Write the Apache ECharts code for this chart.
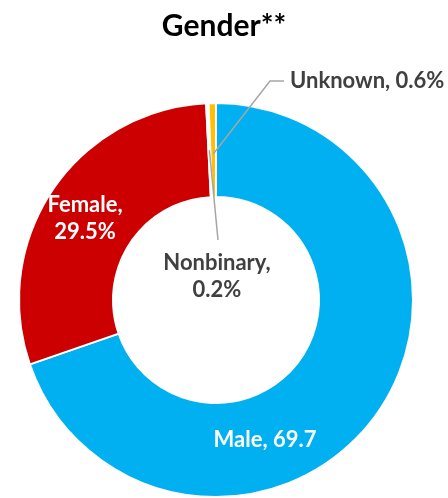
<!DOCTYPE html>
<html>
<head>
<meta charset="utf-8">
<script src="https://cdn.jsdelivr.net/npm/echarts@6/dist/echarts.min.js"></script>
<style>
html, body { margin: 0; padding: 0; background: #fff; }
#gender_chart_main { width: 448px; height: 498px; }
</style>
</head>
<body>
<div id="gender_chart_main"></div>
<script>
// data
var genderNames = ['Male', 'Female', 'Nonbinary', 'Unknown'];
var genderValues = [69.7, 29.5, 0.2, 0.6];
var genderLabels = ['Male, 69.7', 'Female,\n29.5%', 'Nonbinary,\n0.2%', 'Unknown, 0.6%'];
var genderColors = ['#00B0F0', '#CC0000', '#FFFFFF', '#FFC000'];

var FONT = 'Lato, "Open Sans", sans-serif';
var CX = 216, CY = 300, R0 = 103, R1 = 197;

// point in the middle of a slice (angle from top, clockwise)
function slicePoint(idx, rr) {
	var total = 0, before = 0;
	for (var i = 0; i < genderValues.length; i++) {
		total += genderValues[i];
		if (i < idx) before += genderValues[i];
	}
	var a = (before + genderValues[idx] / 2) / total * Math.PI * 2;
	return [CX + rr * Math.sin(a), CY - rr * Math.cos(a)];
}

var genderChart = echarts.init(document.getElementById('gender_chart_main'));

var ringData = [];
var labelData = [];
for (var i = 0; i < genderNames.length; i++) {
	var inside = i < 2;
	ringData.push({
		name: genderNames[i],
		value: genderValues[i],
		itemStyle: { color: genderColors[i] }
	});
	labelData.push({
		name: genderNames[i],
		value: genderValues[i],
		label: {
			position: inside ? 'inside' : 'outside',
			color: inside ? '#FFFFFF' : '#404040'
		},
		labelLine: { show: !inside }
	});
}

var option = {
	animation: false,
	title: {
		text: 'Gender**',
		left: 'center',
		top: 6,
		textStyle: { fontFamily: FONT, fontSize: 30, fontWeight: 'bold', color: '#000' }
	},
	series: [{
		// 圆环
		type: 'pie',
		z: 2,
		center: [CX, CY],
		radius: [R0, R1],
		startAngle: 90,
		clockwise: true,
		silent: true,
		itemStyle: { borderColor: '#FFFFFF', borderWidth: 2 },
		label: { show: false },
		labelLine: { show: false },
		data: ringData
	}, {
		// 标签和引线 (放在圆环上层)
		type: 'pie',
		z: 5,
		center: [CX, CY],
		radius: [R0, R1],
		startAngle: 90,
		clockwise: true,
		silent: true,
		avoidLabelOverlap: false,
		itemStyle: { color: 'rgba(0,0,0,0)', borderWidth: 0 },
		label: {
			formatter: function(p) { return genderLabels[p.dataIndex]; },
			fontFamily: FONT,
			fontSize: 22,
			fontWeight: 'bold',
			lineHeight: 27,
			align: 'center'
		},
		labelLine: {
			lineStyle: { color: '#A6A6A6', width: 1.5 }
		},
		labelLayout: function(p) {
			var i = p.dataIndex;
			if (i === 0) {
				return { x: 265, y: 440, align: 'center', verticalAlign: 'middle' };
			}
			if (i === 1) {
				return { x: 85, y: 218, align: 'center', verticalAlign: 'middle' };
			}
			if (i === 2) {
				var s = slicePoint(2, 150);
				return {
					x: 217, y: 276, align: 'center', verticalAlign: 'middle',
					labelLinePoints: [s, [(s[0] + 218) / 2, (s[1] + 240) / 2], [218, 240]]
				};
			}
			var u = slicePoint(3, 146);
			return {
				x: 290, y: 81, align: 'left', verticalAlign: 'middle',
				labelLinePoints: [u, [270, 81], [284, 81]]
			};
		},
		data: labelData
	}]
};
genderChart.setOption(option);
</script>
</body>
</html>
